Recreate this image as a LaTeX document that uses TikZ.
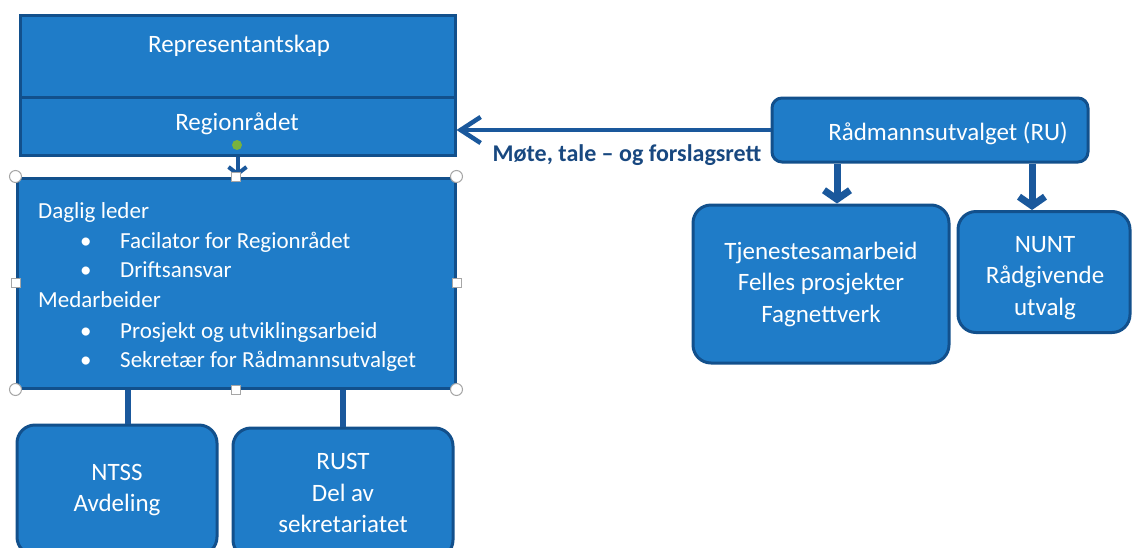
\documentclass[tikz,border=0pt]{standalone}
\usepackage{fontspec}
\setmainfont{Carlito}
\usetikzlibrary{arrows.meta,positioning}
\definecolor{boxfill}{RGB}{31,124,200}
\definecolor{boxedge}{RGB}{18,80,140}
\definecolor{linkblue}{RGB}{26,88,156}
\definecolor{labelblue}{RGB}{24,72,128}
\definecolor{dotgreen}{RGB}{120,178,62}

\begin{document}
\begin{tikzpicture}[x=1pt,y=-1pt,
  box/.style={draw=boxedge, line width=3pt, fill=boxfill, text=white, inner sep=0pt},
  rbox/.style={box, rounded corners=18pt, align=center, font=\fontsize{25}{31.5}\selectfont},
  boxtext/.style={text=white, inner sep=0pt, anchor=base, font=\fontsize{25}{30}\selectfont},
  item/.style={text=white, inner sep=0pt, anchor=base west, font=\fontsize{23}{28}\selectfont},
  link/.style={draw=linkblue, line width=6pt},
  handle/.style={draw=gray!70, fill=white, line width=1pt, inner sep=0pt, minimum size=12pt},
  tiparrow/.style={draw=linkblue, line width=7pt, -{Straight Barb[length=9pt,width=26pt]}}]
\useasboundingbox (0,0) rectangle (1133,547);
\clip (0,0) rectangle (1133,547);

% links drawn first, boxes on top
\node[box, minimum width=438pt, minimum height=210pt] (dl) at (236,283) {};
\node[rbox, minimum width=200pt, minimum height=130pt] (ntss) at (117,490) {NTSS\\Avdeling};
\node[rbox, minimum width=220pt, minimum height=130pt] (rust) at (343,493) {RUST\\Del av\\sekretariatet};
\draw[link] ([xshift=11pt]ntss.north |- dl.south) -- ([xshift=11pt]ntss.north);
\draw[link] (rust.north |- dl.south) -- (rust.north);

% Representantskap / Regionraadet
\node[box, minimum width=435pt, minimum height=82pt] (rep) at (237.5,56) {};
\node[box, minimum width=435pt, minimum height=58pt] (reg) at (237.5,126) {};
\node[boxtext] (repT) at (239,52) {Representantskap};
\node[boxtext] (regT) at (237,130) {Regionrådet};
\node[circle, fill=dotgreen, minimum size=10pt, inner sep=0pt] (dot) at (237,145) {};
\draw[draw=linkblue, line width=4pt, -{Straight Barb[length=7pt,width=18pt]}] (reg.south) -- (reg.south |- dl.north);

% daglig leder text
\node[item] (d1) at (38,218) {Daglig leder};
\node[item] (b1) at (80,248) {\textbullet};
\node[item] (d2) at (120,248) {Facilator for Regionrådet};
\node[item] (b2) at (80,277) {\textbullet};
\node[item] (d3) at (120,277) {Driftsansvar};
\node[item] (d4) at (38,307) {Medarbeider};
\node[item] (b3) at (80,338) {\textbullet};
\node[item] (d5) at (120,338) {Prosjekt og utviklingsarbeid};
\node[item] (b4) at (80,367) {\textbullet};
\node[item] (d6) at (120,367) {Sekretær for Rådmannsutvalget};

% selection handles
\foreach \a/\n in {north west/hnw, north east/hne, south west/hsw, south east/hse}
  \node[handle, circle] (\n) at (dl.\a) {};
\foreach \a/\n in {north/hn, south/hs, west/hw, east/he}
  \node[handle, minimum size=9pt] (\n) at (dl.\a) {};

% Raadmannsutvalget
\node[box, rounded corners=10pt, minimum width=316pt, minimum height=64pt] (ru) at (930,130) {};
\node[boxtext] (ruT) at (948,140) {Rådmannsutvalget (RU)};
\node[rbox, minimum width=256pt, minimum height=158pt] (tj) at (821,284) {Tjenestesamarbeid\\Felles prosjekter\\Fagnettverk};
\node[rbox, minimum width=172pt, minimum height=121pt] (nunt) at (1044,272) {};
\node[align=center, text=white, inner sep=0pt, font=\fontsize{25}{31.5}\selectfont] (nuntT) at (1045,278) {NUNT\\Rådgivende\\utvalg};

\draw[tiparrow] ([xshift=16pt]tj.north |- ru.south) -- ([xshift=16pt]tj.north);
\draw[tiparrow] ([xshift=-12pt]nunt.north |- ru.south) -- ([xshift=-12pt]nunt.north);
\draw[draw=linkblue, line width=4.5pt, -{Straight Barb[length=20pt,width=26pt]}] (ru.west) -- (ru.west -| reg.east);
\node[font=\bfseries\fontsize{24}{28}\selectfont, text=labelblue, anchor=base, inner sep=0pt] (mote) at (627,161) {Møte, tale – og forslagsrett};
\end{tikzpicture}
\end{document}
